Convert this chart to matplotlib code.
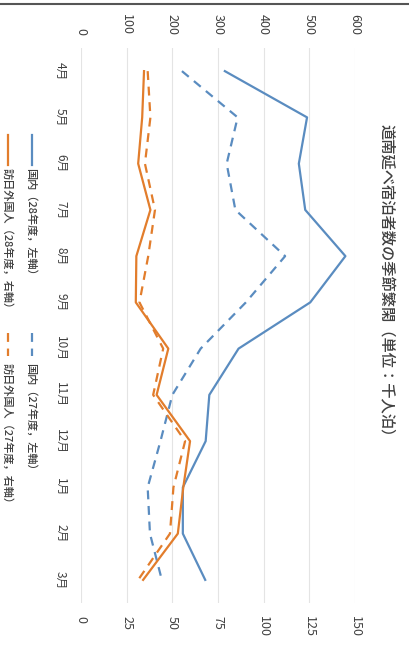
import matplotlib
matplotlib.use("Agg")
import matplotlib.pyplot as plt
from matplotlib.lines import Line2D

plt.rcParams['font.family'] = ['Noto Sans CJK JP', 'DejaVu Sans']

months = ['4月', '5月', '6月', '7月', '8月', '9月', '10月', '11月', '12月', '1月', '2月', '3月']
domestic_28 = [315, 495, 477, 491, 579, 502, 345, 281, 273, 223, 223, 272]
domestic_27 = [221, 343, 319, 338, 447, 361, 262, 200, 174, 146, 151, 177]
foreign_28 = [34.5, 33.5, 31.3, 38.0, 30.3, 30.0, 47.8, 41.4, 59.7, 56.0, 53.0, 34.0]
foreign_27 = [36.5, 38.0, 35.0, 40.5, 36.8, 32.0, 45.0, 39.5, 57.0, 50.6, 48.7, 31.3]
left_ticks = [0, 100, 200, 300, 400, 500, 600]
right_ticks = [0, 25, 50, 75, 100, 125, 150]
labels = ['国内（28年度，左軸）', '国内（27年度，左軸）',
          '訪日外国人（28年度，右軸）', '訪日外国人（27年度，右軸）']
title = '道南延べ宿泊者数の季節繁閑（単位：千人泊）'

W, H = 409, 646
BLUE = '#5a8cc0'
ORANGE = '#e27d2c'
TXT = '#404040'

fig = plt.figure(figsize=(W / 100, H / 100), dpi=100)
fig.patch.set_facecolor('white')

def fx(x):
    return x / W

def fy(y):
    return 1 - y / H

ax = fig.add_axes([fx(81), fy(603), (355 - 81) / W, (603 - 48) / H])
ax2 = ax.twiny()
idx = list(range(len(months)))

# left axis (values 0-600) shown along the top
ax.plot(domestic_28, idx, color=BLUE, lw=1.6)
ax.plot(domestic_27, idx, color=BLUE, lw=1.6, ls=(0, (4, 3)))
ax.set_xlim(0, 600)
ax.set_ylim(len(months) - 0.5, -0.5)
ax.xaxis.set_ticks_position('top')
ax.xaxis.set_label_position('top')
ax.set_xticks(left_ticks)
ax.set_xticklabels([str(t) for t in left_ticks], rotation=270, fontsize=9, color=TXT)
ax.set_yticks(idx)
ax.set_yticklabels(months, rotation=270, fontsize=8.5, color=TXT, va='center')
ax.tick_params(axis='x', length=0, pad=9.5, labeltop=True, labelbottom=False)
ax.tick_params(axis='y', length=0, pad=10)
ax.grid(axis='x', color='#e4e4e4', lw=0.8)
ax.set_axisbelow(True)
for s in ax.spines.values():
    s.set_visible(False)

# right axis (values 0-150) shown along the bottom
ax2.plot(foreign_28, idx, color=ORANGE, lw=1.6)
ax2.plot(foreign_27, idx, color=ORANGE, lw=1.6, ls=(0, (4, 3)))
ax2.set_xlim(0, 150)
ax2.xaxis.set_ticks_position('bottom')
ax2.xaxis.set_label_position('bottom')
ax2.set_xticks(right_ticks)
ax2.set_xticklabels([str(t) for t in right_ticks], rotation=270, fontsize=9, color=TXT)
ax2.tick_params(axis='x', length=0, pad=9.5, labelbottom=True, labeltop=False)
for s in ax2.spines.values():
    s.set_visible(False)

# title
fig.text(fx(386), fy(284), title, rotation=270, ha='center', va='center',
         fontsize=11, color=TXT, fontweight='medium')

# legend (rotated)
entries = [
    (32, 135, 165, 168, BLUE, '-', labels[0]),
    (32, 333, 356, 363, BLUE, (0, (4, 3)), labels[1]),
    (8, 135, 165, 168, ORANGE, '-', labels[2]),
    (8, 333, 356, 363, ORANGE, (0, (4, 3)), labels[3]),
]
for x, y0, y1, yt, c, ls, lab in entries:
    fig.add_artist(Line2D([fx(x), fx(x)], [fy(y0), fy(y1)], color=c, lw=1.6, ls=ls,
                          transform=fig.transFigure))
    fig.text(fx(x - 1), fy(yt), lab, rotation=270, ha='center', va='top',
             fontsize=8, color=TXT, fontweight='medium')

# top border line of the scanned page
fig.add_artist(Line2D([0, 1], [fy(4), fy(4)], color='#555555', lw=1.5,
                      transform=fig.transFigure))

fig.savefig('out.png', dpi=100, facecolor='white')
